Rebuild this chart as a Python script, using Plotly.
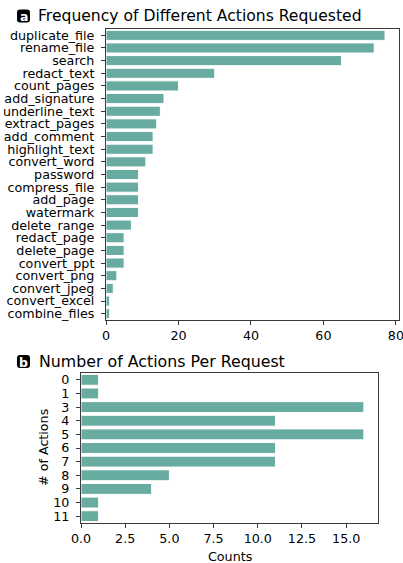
import plotly.graph_objects as go

# Panel a: how often each action was requested
actions = ["duplicate_file", "rename_file", "search", "redact_text", "count_pages",
           "add_signature", "underline_text", "extract_pages", "add_comment",
           "highlight_text", "convert_word", "password", "compress_file", "add_page",
           "watermark", "delete_range", "redact_page", "delete_page", "convert_ppt",
           "convert_png", "convert_jpeg", "convert_excel", "combine_files"]
action_counts = [77, 74, 65, 30, 20, 16, 15, 14, 13, 13, 11, 9, 9, 9, 9, 7, 5, 5, 5, 3, 2, 1, 1]

# Panel b: number of actions contained in each request
n_actions = ["0", "1", "3", "4", "5", "6", "7", "8", "9", "10", "11"]
request_counts = [1, 1, 16, 11, 16, 11, 11, 5, 4, 1, 1]

W, H = 403, 563
BAR = "#67aba1"
AX = "#3a3a3a"
FONT = "DejaVu Sans"


def px_x(x):
    return x / W


def px_y(y):
    return 1 - y / H


fig = go.Figure()
fig.add_trace(go.Bar(x=action_counts, y=actions, orientation="h",
                     marker=dict(color=BAR, line=dict(color="white", width=1)),
                     xaxis="x", yaxis="y", showlegend=False))
fig.add_trace(go.Bar(x=request_counts, y=n_actions, orientation="h",
                     marker=dict(color=BAR, line=dict(color="white", width=1)),
                     xaxis="x2", yaxis="y2", showlegend=False))

axis_common = dict(showline=True, mirror=True, linecolor=AX, linewidth=1.2,
                   ticks="outside", ticklen=4, tickwidth=1, tickcolor=AX,
                   showgrid=False, zeroline=False, automargin=False,
                   ticklabeloverflow="allow",
                   tickfont=dict(family=FONT, size=12.7, color="black"))

fig.update_layout(
    width=W, height=H,
    margin=dict(l=0, r=0, t=0, b=0, autoexpand=False),
    paper_bgcolor="white", plot_bgcolor="white",
    bargap=0.2,
    font=dict(family=FONT, color="black"),
    xaxis=dict(domain=[px_x(106), px_x(399)], anchor="y",
               range=[0, max(action_counts) * 1.05], dtick=20, **axis_common),
    yaxis=dict(domain=[px_y(320), px_y(29)], anchor="x", type="category",
               autorange="reversed", dtick=1, ticklabelstandoff=4, **axis_common),
    xaxis2=dict(domain=[px_x(81), px_x(378)], anchor="y2",
                range=[0, max(request_counts) * 1.05], dtick=2.5, tickformat=".1f",
                **axis_common),
    yaxis2=dict(domain=[px_y(523), px_y(373)], anchor="x2", type="category",
                autorange="reversed", dtick=1, ticklabelstandoff=4, **axis_common),
)


def badge(letter, x0, y0, size=13, r=3):
    x1, y1 = x0 + size, y0 + size
    path = (f"M {px_x(x0 + r)} {px_y(y0)} L {px_x(x1 - r)} {px_y(y0)} "
            f"Q {px_x(x1)} {px_y(y0)} {px_x(x1)} {px_y(y0 + r)} "
            f"L {px_x(x1)} {px_y(y1 - r)} Q {px_x(x1)} {px_y(y1)} {px_x(x1 - r)} {px_y(y1)} "
            f"L {px_x(x0 + r)} {px_y(y1)} Q {px_x(x0)} {px_y(y1)} {px_x(x0)} {px_y(y1 - r)} "
            f"L {px_x(x0)} {px_y(y0 + r)} Q {px_x(x0)} {px_y(y0)} {px_x(x0 + r)} {px_y(y0)} Z")
    fig.add_shape(type="path", path=path, xref="paper", yref="paper",
                  fillcolor="black", line=dict(width=0))
    fig.add_annotation(text=f"<b>{letter}</b>", x=px_x(x0 + size / 2), y=px_y(y0 + size / 2 + 0.5),
                       xref="paper", yref="paper", showarrow=False,
                       xanchor="center", yanchor="middle",
                       font=dict(family=FONT, size=12.5, color="white"))


badge("a", 17, 9.5)
fig.add_annotation(text="Frequency of Different Actions Requested", x=px_x(36), y=px_y(15.5),
                   xref="paper", yref="paper", showarrow=False,
                   xanchor="left", yanchor="middle",
                   font=dict(family=FONT, size=15.6, color="black"))

badge("b", 17, 355)
fig.add_annotation(text="Number of Actions Per Request", x=px_x(37), y=px_y(361.5),
                   xref="paper", yref="paper", showarrow=False,
                   xanchor="left", yanchor="middle",
                   font=dict(family=FONT, size=15.8, color="black"))

fig.add_annotation(text="Counts", x=px_x(229.5), y=px_y(556),
                   xref="paper", yref="paper", showarrow=False,
                   xanchor="center", yanchor="middle",
                   font=dict(family=FONT, size=12.7, color="black"))
fig.add_annotation(text="# of Actions", x=px_x(43), y=px_y(448), textangle=-90,
                   xref="paper", yref="paper", showarrow=False,
                   xanchor="center", yanchor="middle",
                   font=dict(family=FONT, size=12.7, color="black"))

fig.write_html("out.html")
